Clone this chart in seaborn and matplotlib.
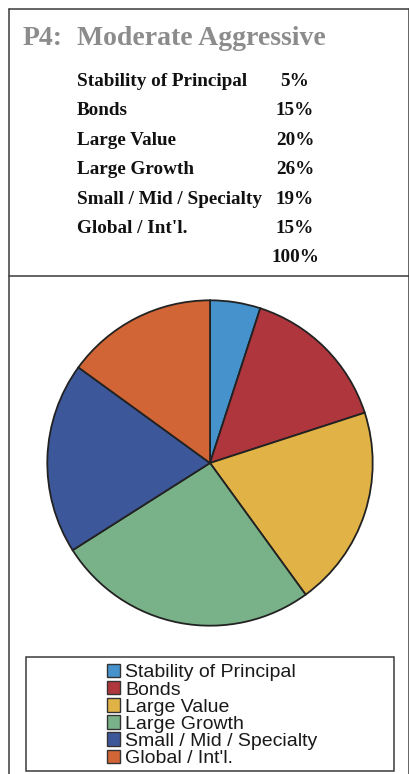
import matplotlib
matplotlib.use("Agg")
import matplotlib.pyplot as plt
from matplotlib.patches import Rectangle
from matplotlib.lines import Line2D
import seaborn as sns

# Portfolio allocation
title_code = "P4:"
title_name = "Moderate Aggressive"
categories = ["Stability of Principal", "Bonds", "Large Value",
              "Large Growth", "Small / Mid / Specialty", "Global / Int'l."]
weights = [5, 15, 20, 26, 19, 15]
total_label = "100%"
colors = ["#4592CC", "#B0363E", "#E1B245", "#79B288", "#3D589A", "#D16535"]

sns.set_theme(style="white")
plt.rcParams["font.family"] = ["Liberation Serif", "DejaVu Serif"]

W, H = 410, 774
fig = plt.figure(figsize=(W / 100, H / 100), dpi=100)
fig.patch.set_facecolor("white")


def fx(x):
    return x / W


def fy(y):
    return 1 - y / H


# outer panel and divider
edge = "#3a3a3a"
for (x0, y0, x1, y1) in [(9, 9, 9, 774), (409, 9, 409, 774), (9, 9, 409, 9), (9, 276, 409, 276)]:
    fig.add_artist(Line2D([fx(x0), fx(x1)], [fy(y0), fy(y1)], color=edge, lw=1.1,
                          transform=fig.transFigure))

# heading
fig.text(fx(23), fy(45), title_code, color="#8C8C8C", fontsize=20, fontweight="bold",
         va="baseline", ha="left")
fig.text(fx(77), fy(45), title_name, color="#8C8C8C", fontsize=20, fontweight="bold",
         va="baseline", ha="left")

# allocation table
row0, step = 86, 29.4
for i, (cat, w) in enumerate(zip(categories, weights)):
    yb = row0 + i * step
    fig.text(fx(77), fy(yb), cat, fontsize=13.8, fontweight="bold", color="#111111",
             va="baseline", ha="left")
    fig.text(fx(295), fy(yb), f"{w}%", fontsize=13.8, fontweight="bold", color="#111111",
             va="baseline", ha="center")
fig.text(fx(295), fy(row0 + len(weights) * step), total_label, fontsize=13.8,
         fontweight="bold", color="#111111", va="baseline", ha="center")

# pie
cx, cy, r = 210, 463, 163.5
ax = fig.add_axes([fx(cx - r), fy(cy + r), 2 * r / W, 2 * r / H])
palette = sns.color_palette(colors)
wedges, _ = ax.pie(weights, colors=palette, startangle=90, counterclock=False,
                   wedgeprops=dict(edgecolor="#222222", linewidth=1.3))
ax.set_xlim(-1.005, 1.005)
ax.set_ylim(-1.005, 1.005)
ax.set_aspect("equal")
ax.axis("off")

# legend box
fig.add_artist(Rectangle((fx(26), fy(771)), fx(394) - fx(26), fy(657) - fy(771),
                         transform=fig.transFigure, fill=False, edgecolor=edge, lw=1.1))
handles = [Rectangle((0, 0), 1, 1, facecolor=c, edgecolor="#333333", lw=1.0) for c in palette]
leg = fig.legend(handles, categories, loc="upper left",
                 bbox_to_anchor=(fx(107), fy(664)), bbox_transform=fig.transFigure,
                 frameon=False, prop={"family": "Liberation Sans", "size": 14},
                 handlelength=0.68, handleheight=0.68, handletextpad=0.25,
                 labelspacing=-0.02, borderpad=0, borderaxespad=0)
for t in leg.get_texts():
    t.set_color("#1a1a1a")

fig.savefig("out.png", dpi=100)
